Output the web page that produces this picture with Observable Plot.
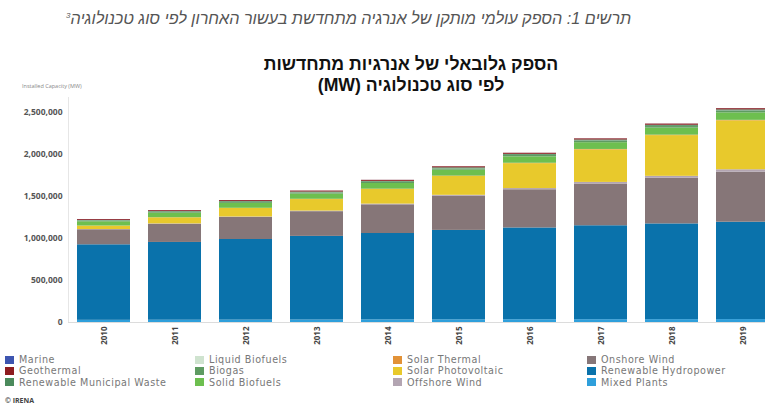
<!DOCTYPE html>
<html><head><meta charset="utf-8">
<script src="https://cdn.jsdelivr.net/npm/d3@7"></script>
<script src="https://cdn.jsdelivr.net/npm/@observablehq/plot@0.6"></script>
<style>
html,body{margin:0;padding:0;background:#fff;overflow:hidden}
#page{position:relative;width:765px;height:405px;overflow:hidden;font-family:"Open Sans",sans-serif;background:#fff}
.abs{position:absolute;white-space:nowrap}
#caption{font-family:"Liberation Sans",Arial,sans-serif;font-style:italic;color:#555;font-size:13px;direction:rtl;top:9px;left:66px;line-height:18px}
#caption sup{font-size:8px;vertical-align:6px;line-height:0}
.title{font-family:"Liberation Sans",Arial,sans-serif;font-weight:bold;color:#111;font-size:17px;direction:rtl;line-height:20px}
#yl{font-size:5.5px;color:#888;left:22px;top:82px}
#chart{position:absolute;left:0;top:90px}
.leg{position:absolute;font-family:"DejaVu Sans",sans-serif;font-size:9.6px;letter-spacing:0.55px;color:#777;line-height:11.3px}
.leg div{position:relative;padding-left:14px;white-space:nowrap;height:11.3px}
.leg span{position:absolute;left:0;top:1.5px;width:9px;height:8px}
#irena{font-size:7px;font-weight:bold;color:#444;left:5px;top:396px}
</style></head><body>
<div id="page">
  <div id="caption" class="abs">תרשים 1: הספק עולמי מותקן של אנרגיה מתחדשת בעשור האחרון לפי סוג טכנולוגיה<sup>3</sup></div>
  <div id="t1" class="abs title" style="top:54px">הספק גלובאלי של אנרגיות מתחדשות</div>
  <div id="t2" class="abs title" style="top:75px">לפי סוג טכנולוגיה (MW)</div>
  <div id="yl" class="abs">Installed Capacity (MW)</div>
  <div id="chart"></div>
  <div id="legend"></div>
  <div id="irena" class="abs">© IRENA</div>
</div>
<script>
const years = [2010, 2011, 2012, 2013, 2014, 2015, 2016, 2017, 2018, 2019];
const mixedPlants      = [25800, 26900, 28100, 29000, 30400, 31100, 32300, 33000, 33800, 34600];
const hydropower       = [896200, 923100, 956900, 993000, 1025600, 1061900, 1089700, 1115000, 1136200, 1155400];
const onshoreWind      = [178300, 216200, 261800, 293100, 340600, 404200, 453100, 495600, 541500, 594300];
const offshoreWind     = [3000, 3800, 5300, 7000, 8500, 12200, 14400, 18700, 23100, 28200];
const solarPV          = [40300, 72000, 100900, 136500, 172700, 223300, 295300, 386100, 483000, 580200];
const solarThermal     = [1300, 1600, 2500, 3700, 4500, 4800, 4900, 5100, 5600, 6300];
const solidBiofuels    = [50100, 53800, 58200, 62300, 67000, 70200, 75900, 80200, 84100, 88700];
const biogas           = [8600, 10200, 11500, 12800, 13900, 15000, 16300, 17500, 18300, 19500];
const liquidBiofuels   = [1400, 1500, 1600, 1700, 1800, 1900, 2100, 2200, 2300, 2400];
const municipalWaste   = [6800, 7400, 8600, 9300, 10100, 10800, 11700, 12400, 13000, 13500];
const geothermal       = [10000, 10400, 10900, 11400, 12000, 12400, 12700, 13300, 13900, 14000];
const marine           = [500, 500, 500, 500, 500, 500, 500, 500, 500, 530];

// stacking order (bottom -> top)
const seriesNames = ["Mixed Plants","Renewable Hydropower","Onshore Wind","Offshore Wind","Solar Photovoltaic","Solar Thermal","Solid Biofuels","Biogas","Liquid Biofuels","Renewable Municipal Waste","Geothermal","Marine"];
const seriesValues = [mixedPlants, hydropower, onshoreWind, offshoreWind, solarPV, solarThermal, solidBiofuels, biogas, liquidBiofuels, municipalWaste, geothermal, marine];
const seriesColors = ["#2f9fdb","#0a72ab","#867678","#b3a5b2","#e8c92c","#e29237","#6dbf4f","#5e9b61","#cfe3cf","#4b8a5c","#8e1c20","#3d55b0"];
const yTicks = [0, 500000, 1000000, 1500000, 2000000, 2500000];
// legend columns (column-major as in reference)
const legendColumns = [
  ["Marine","Geothermal","Renewable Municipal Waste"],
  ["Liquid Biofuels","Biogas","Solid Biofuels"],
  ["Solar Thermal","Solar Photovoltaic","Offshore Wind"],
  ["Onshore Wind","Renewable Hydropower","Mixed Plants"]
];

const rows = [];
seriesNames.forEach((s, i) => years.forEach((yr, j) => rows.push({year: yr, series: s, value: seriesValues[i][j]})));

const chart = Plot.plot({
  width: 765, height: 265,
  marginTop: 7, marginBottom: 33, marginLeft: 68, marginRight: 0,
  style: {fontFamily: "Open Sans, sans-serif", background: "transparent"},
  x: {type: "band", domain: years, range: [68, 778], paddingInner: 0.256, paddingOuter: 0.112, label: null, axis: null},
  y: {domain: [0, 2670000], label: null, axis: null},
  color: {domain: seriesNames, range: seriesColors},
  marks: [
    Plot.ruleY([0], {stroke: "#dcdcdc"}),
    Plot.barY(rows, {x: "year", y: "value", fill: "series", order: seriesNames}),
    Plot.axisY({ticks: yTicks, tickFormat: d3.format(","), tickSize: 0, tickPadding: 6, fontSize: 8.5, fontWeight: "bold", fill: "#555", label: null}),
    Plot.axisX({tickRotate: -90, tickFormat: d => String(d), tickSize: 0, tickPadding: 4, fontSize: 8, fontWeight: "bold", fill: "#444", label: null})
  ]
});
document.getElementById("chart").appendChild(chart);
// vertical axis line
d3.select(chart).append("line").attr("x1", 68.5).attr("x2", 68.5).attr("y1", 7).attr("y2", 232).attr("stroke", "#e6e6e6");

// legend
const legend = document.getElementById("legend");
const colX = [5, 195, 393, 587];
legendColumns.forEach((col, ci) => {
  const d = document.createElement("div");
  d.className = "leg";
  d.style.left = colX[ci] + "px";
  d.style.top = "354px";
  col.forEach(name => {
    const it = document.createElement("div");
    const sw = document.createElement("span");
    sw.style.background = seriesColors[seriesNames.indexOf(name)];
    it.appendChild(sw);
    it.appendChild(document.createTextNode(name));
    d.appendChild(it);
  });
  legend.appendChild(d);
});

// fit title widths (same size for both lines)
const t1 = document.getElementById("t1"), t2 = document.getElementById("t2");
const fs1 = parseFloat(getComputedStyle(t1).fontSize);
const newFs = fs1 * 295 / t1.getBoundingClientRect().width;
[t1, t2].forEach(el => {
  el.style.fontSize = newFs + "px";
  el.style.left = (411 - el.getBoundingClientRect().width / 2) + "px";
});
(function(){
  const el = document.getElementById("caption");
  const fs = parseFloat(getComputedStyle(el).fontSize);
  const w = el.getBoundingClientRect().width;
  el.style.fontSize = (fs * 567 / w) + "px";
})();
</script>
</body></html>
